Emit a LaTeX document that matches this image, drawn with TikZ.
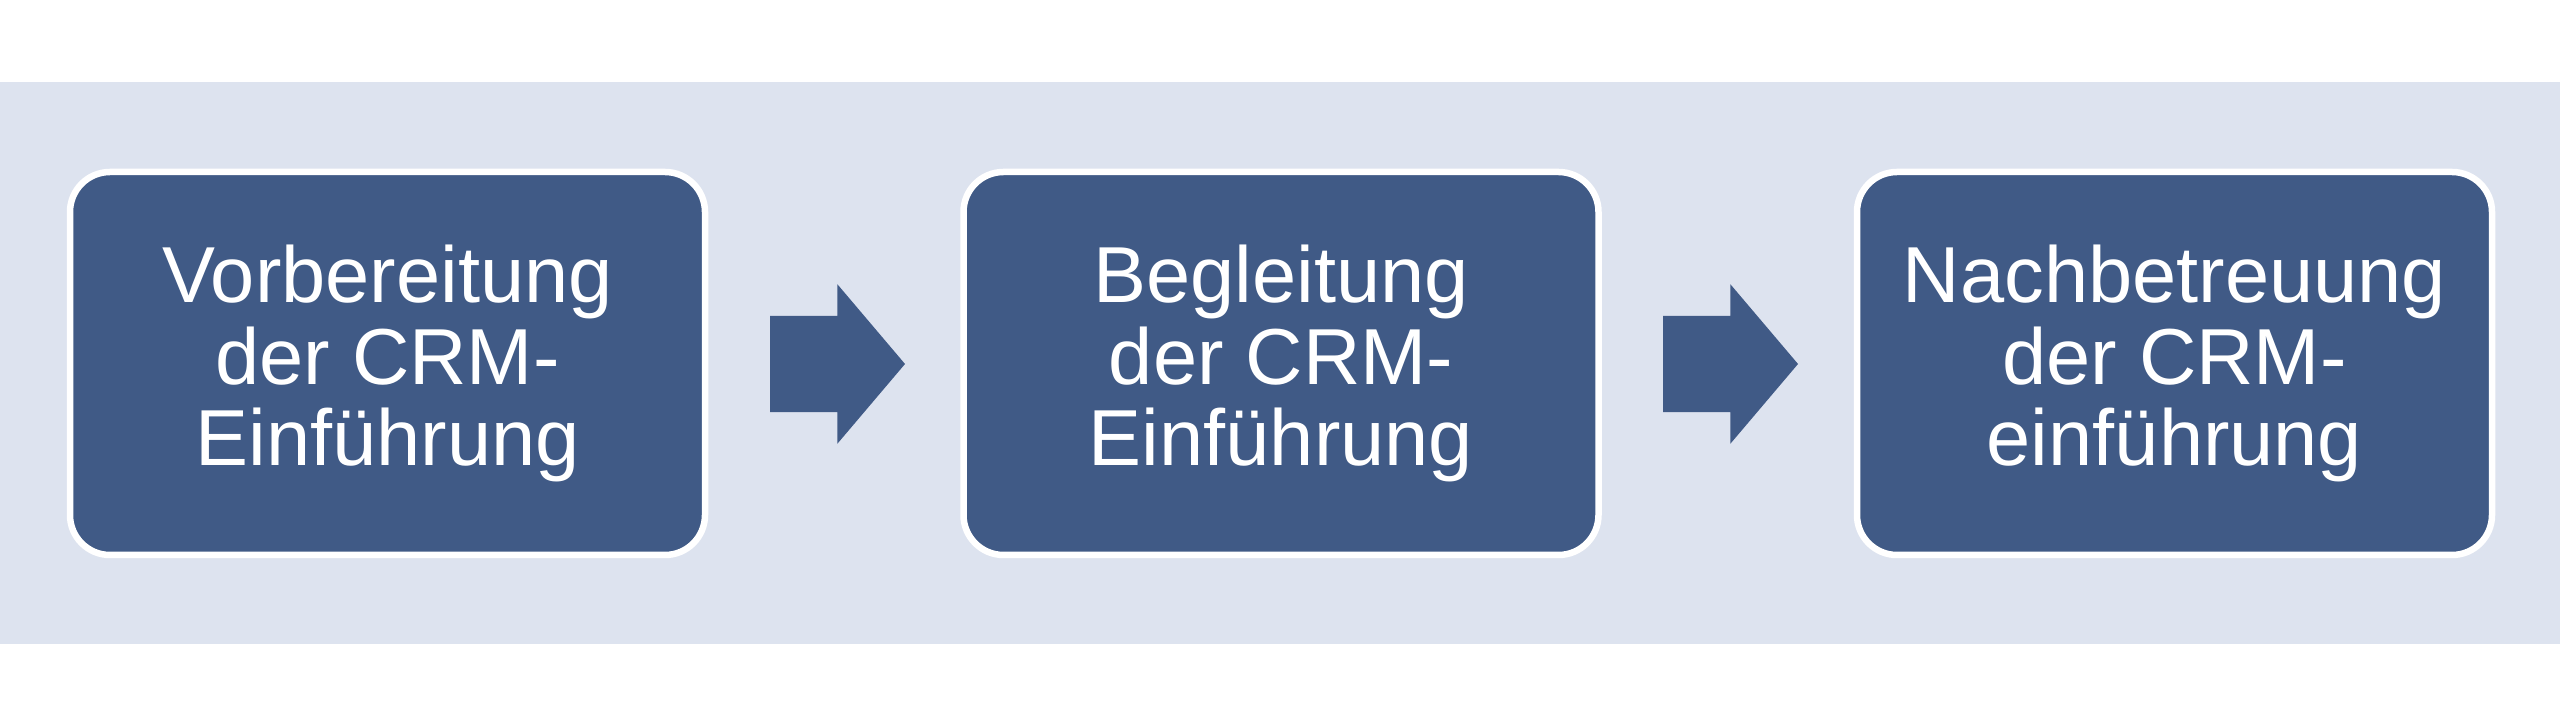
\documentclass[tikz,border=0pt]{standalone}
\usepackage{fontspec}
\setmainfont{Liberation Sans}
\usepackage{xcolor}
\usepackage{tikz}
\usetikzlibrary{shapes.arrows}

\definecolor{bandblue}{RGB}{221,227,239}
\definecolor{stepblue}{RGB}{64,90,134}

\begin{document}
\begin{tikzpicture}[
  stepbox/.style={rectangle, rounded corners=0.4cm, fill=stepblue, draw=white,
    line width=0.065cm, minimum width=6.35cm, minimum height=3.83cm,
    text=white, align=center, inner sep=0pt,
    font=\fontsize{22.6}{23.3}\selectfont},
  stepnext/.style={single arrow, fill=stepblue, outer sep=0pt,
    inner xsep=0pt, inner ysep=0.475cm,
    minimum height=1.35cm, minimum width=1.58cm,
    single arrow head extend=0.315cm, single arrow tip angle=99.4,
    single arrow head indent=0pt, anchor=tail}
]
\useasboundingbox (0,0) rectangle (25.6,7.28);
\fill[bandblue] (0,0.84) rectangle (25.6,6.46);

\node[stepbox] (s1) at (3.875,3.645) {Vorbereitung\\der CRM-\\Einführung};
\node[stepbox] (s2) at (12.81,3.645) {Begleitung\\der CRM-\\Einführung};
\node[stepbox] (s3) at (21.745,3.645) {Nachbetreuung\\der CRM-\\einführung};

\node[stepnext] (a1) at (7.70,3.64) {};
\node[stepnext] (a2) at (16.63,3.64) {};
\end{tikzpicture}
\end{document}
